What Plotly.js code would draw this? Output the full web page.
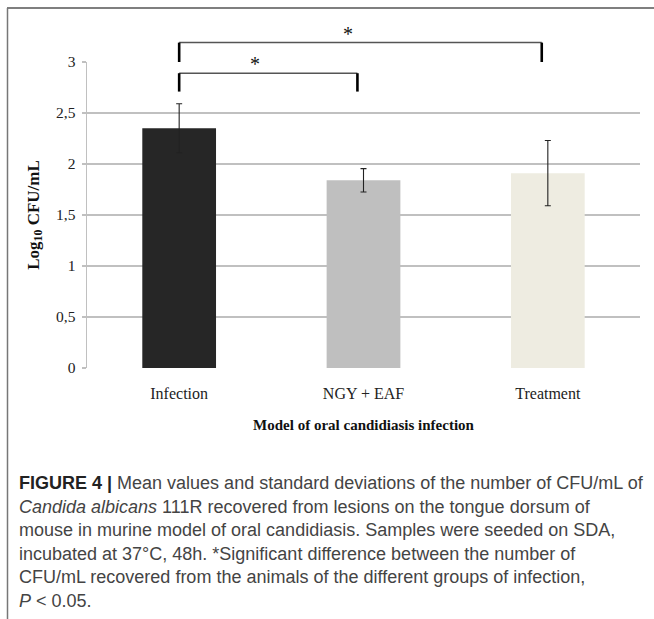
<!DOCTYPE html>
<html><head><meta charset="utf-8">
<script src="https://cdn.plot.ly/plotly-3.0.1.min.js"></script>
<style>html,body{margin:0;padding:0;background:#fff;} #chart{width:654px;height:619px;}</style>
</head><body><div id="chart"></div>
<script>
// ---- data ----
const categories = ['Infection', 'NGY + EAF', 'Treatment'];
const means = [2.35, 1.84, 1.91];
const sds = [0.24, 0.115, 0.32];
const barColors = ['#262626', '#bfbfbf', '#eeece1'];
const yTickVals = [0, 0.5, 1, 1.5, 2, 2.5, 3];
const yTickText = ['0', '0,5', '1', '1,5', '2', '2,5', '3'];
// significance brackets (category index from/to, bracket top value, leg bottom value)
const sigFrom = [0, 0];
const sigTo = [1, 2];
const sigTop = [2.89, 3.19];
const sigBottom = [2.71, 3.0];
const sigLabel = ['*', '*'];
const yTitle = '<b>Log<sub>10</sub> CFU/mL</b>';
const xTitle = '<b>Model of oral candidiasis infection</b>';
const captionLines = [
  '<b><span style="color:#222">FIGURE 4 |</span></b> Mean values and standard deviations of the number of CFU/mL of',
  '<i>Candida albicans</i> 111R recovered from lesions on the tongue dorsum of',
  'mouse in murine model of oral candidiasis. Samples were seeded on SDA,',
  'incubated at 37°C, 48h. *Significant difference between the number of',
  'CFU/mL recovered from the animals of the different groups of infection,',
  '<i>P</i> &lt; 0.05.'
];

// ---- layout geometry ----
const W = 654, H = 619;
const M = {l: 87, r: 14, t: 62, b: 251};
const PW = W - M.l - M.r, PH = H - M.t - M.b;
const yMax = 3;
const px2px = x => (x - M.l) / PW;       // pixel x -> paper x
const py2py = y => (H - M.b - y) / PH;   // pixel y -> paper y
const v2py = v => v / yMax;              // data value -> paper y

const serif = 'Liberation Serif, Times New Roman, serif';

const trace = {
  type: 'bar',
  x: categories,
  y: means,
  marker: {color: barColors, line: {width: 0}},
  error_y: {type: 'data', array: sds, visible: true, color: '#222', thickness: 1.1, width: 3},
  hoverinfo: 'none'
};

const shapes = [];
const annotations = [];
const legOffset = -0.033;
for (let i = 0; i < sigFrom.length; i++) {
  const x0 = sigFrom[i], x1 = sigTo[i] + legOffset;
  shapes.push({type: 'line', xref: 'x', yref: 'paper', x0: x0, x1: x1, y0: v2py(sigTop[i]), y1: v2py(sigTop[i]),
    line: {color: '#555', width: 1.5}});
  shapes.push({type: 'line', xref: 'x', yref: 'paper', x0: x0, x1: x0, y0: v2py(sigTop[i]), y1: v2py(sigBottom[i]),
    line: {color: '#000', width: 2.6}});
  shapes.push({type: 'line', xref: 'x', yref: 'paper', x0: x1, x1: x1, y0: v2py(sigTop[i]), y1: v2py(sigBottom[i]),
    line: {color: '#000', width: 2.6}});
  annotations.push({xref: 'x', yref: 'paper', x: (x0 + x1) / 2 - 0.07, y: v2py(sigTop[i]), yshift: 9,
    xanchor: 'center', yanchor: 'middle', showarrow: false, text: sigLabel[i],
    font: {family: serif, size: 20, color: '#111'}});
}
// frame lines
shapes.push({type: 'line', xref: 'paper', yref: 'paper', x0: px2px(7), x1: px2px(654), y0: py2py(8), y1: py2py(8),
  line: {color: '#555', width: 1.5}});
shapes.push({type: 'line', xref: 'paper', yref: 'paper', x0: px2px(7.5), x1: px2px(7.5), y0: py2py(8), y1: py2py(619),
  line: {color: '#777', width: 1.5}});

captionLines.forEach((t, i) => {
  annotations.push({xref: 'paper', yref: 'paper', x: px2px(17), y: py2py(483 + i * 23.5),
    xanchor: 'left', yanchor: 'middle', showarrow: false, align: 'left', text: t,
    font: {family: 'Liberation Sans, Arial, sans-serif', size: 18, color: '#444'}});
});

const layout = {
  width: W, height: H,
  margin: M,
  paper_bgcolor: '#fff', plot_bgcolor: '#fff',
  showlegend: false,
  bargap: 0.6,
  xaxis: {
    type: 'category', range: [-0.5, 2.5], fixedrange: true,
    showgrid: false, zeroline: false, showline: false, ticks: '',
    ticklabelstandoff: 14,
    tickfont: {family: serif, size: 16, color: '#222'},
    title: {text: xTitle, standoff: 18, font: {family: serif, size: 15, color: '#111'}}
  },
  yaxis: {
    range: [0, yMax], fixedrange: true,
    tickvals: yTickVals, ticktext: yTickText,
    showgrid: true, gridcolor: '#c0c0c0', gridwidth: 1.5,
    zeroline: false, showline: true, linecolor: '#c0c0c0', linewidth: 1.5,
    ticks: 'outside', ticklen: 4, tickcolor: '#c0c0c0', tickwidth: 1.5,
    ticklabelstandoff: 3,
    tickfont: {family: serif, size: 15.5, color: '#222'},
    title: {text: yTitle, standoff: 12, font: {family: serif, size: 17, color: '#111'}}
  },
  shapes: shapes,
  annotations: annotations
};

Plotly.newPlot('chart', [trace], layout, {staticPlot: true, displayModeBar: false});
</script>
</body></html>
